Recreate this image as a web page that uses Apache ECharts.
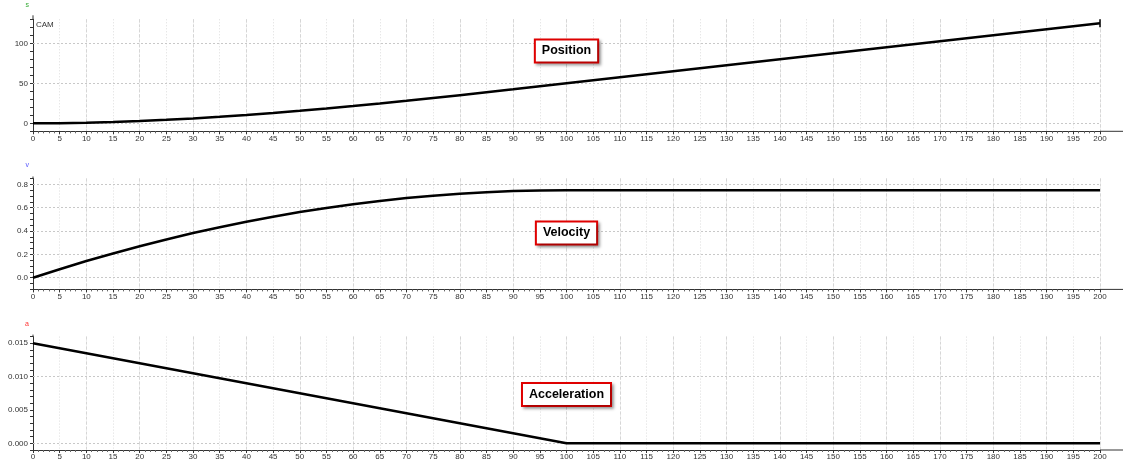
<!DOCTYPE html>
<html>
<head>
<meta charset="utf-8">
<script src="https://cdn.jsdelivr.net/npm/echarts@6/dist/echarts.min.js"></script>
<style>
  html, body { margin: 0; padding: 0; background: #ffffff; }
  #chart { width: 1123px; height: 464px; }
</style>
</head>
<body>
<div id="chart"></div>
<script>
// Cam motion profile sampled every 5 steps
const times = [0, 5, 10, 15, 20, 25, 30, 35, 40, 45, 50, 55, 60, 65, 70, 75, 80, 85, 90, 95,
  100, 105, 110, 115, 120, 125, 130, 135, 140, 145, 150, 155, 160, 165, 170, 175, 180, 185, 190, 195, 200];

const position = [0, 0.18, 0.73, 1.6, 2.8, 4.3, 6.08, 8.12, 10.4, 12.91, 15.63, 18.53, 21.6, 24.82, 28.18,
  31.64, 35.2, 38.83, 42.53, 46.25, 50, 53.75, 57.5, 61.25, 65, 68.75, 72.5, 76.25, 80, 83.75, 87.5,
  91.25, 95, 98.75, 102.5, 106.25, 110, 113.75, 117.5, 121.25, 125];

const velocity = [0, 0.073, 0.143, 0.208, 0.27, 0.328, 0.383, 0.433, 0.48, 0.523, 0.563, 0.598, 0.63,
  0.658, 0.683, 0.703, 0.72, 0.733, 0.743, 0.748, 0.75, 0.75, 0.75, 0.75, 0.75, 0.75, 0.75, 0.75, 0.75,
  0.75, 0.75, 0.75, 0.75, 0.75, 0.75, 0.75, 0.75, 0.75, 0.75, 0.75, 0.75];

const acceleration = [0.015, 0.01425, 0.0135, 0.01275, 0.012, 0.01125, 0.0105, 0.00975, 0.009, 0.00825,
  0.0075, 0.00675, 0.006, 0.00525, 0.0045, 0.00375, 0.003, 0.00225, 0.0015, 0.00075, 0, 0, 0, 0, 0, 0,
  0, 0, 0, 0, 0, 0, 0, 0, 0, 0, 0, 0, 0, 0, 0];

// Labelled ticks on each value axis
const positionTicks = [0, 50, 100];
const velocityTicks = [0, 0.2, 0.4, 0.6, 0.8];
const accelerationTicks = [0, 0.005, 0.010, 0.015];

const FONT = '"Liberation Sans", Arial, sans-serif';
const AXIS_COLOR = '#333333';

const panels = [
  { symbol: 's', symbolColor: '#33aa33', values: position, ticks: positionTicks, digits: 0,
    min: -10, max: 130, step: 10, top: 19.3, height: 112, nameGap: 11,
    title: 'Position', titleAt: [100, 90.4], overhang: 4, endMark: true },
  { symbol: 'v', symbolColor: '#5555ff', values: velocity, ticks: velocityTicks, digits: 1,
    min: -0.1, max: 0.85, step: 0.05, top: 178.5, height: 110.9, nameGap: 10,
    title: 'Velocity', titleAt: [100, 0.383], overhang: 2, endMark: false },
  { symbol: 'a', symbolColor: '#ff3333', values: acceleration, ticks: accelerationTicks, digits: 3,
    min: -0.001, max: 0.016, step: 0.001, top: 336.6, height: 113.4, nameGap: 9,
    title: 'Acceleration', titleAt: [100, 0.00733], overhang: 2, endMark: false }
];

function tickFormatter(ticks, digits) {
  return function (v) {
    for (const t of ticks) {
      if (Math.abs(v - t) < 1e-9) return t.toFixed(digits);
    }
    return '';
  };
}

const grids = [], xAxes = [], yAxes = [], series = [];

panels.forEach(function (p, i) {
  grids.push({ left: 33, right: 23, top: p.top, height: p.height, containLabel: false });

  // labelled x axis with dotted split lines every 5
  xAxes.push({
    gridIndex: i, type: 'value', min: 0, max: 200, interval: 5, position: 'bottom',
    axisLine: { show: true, onZero: false, lineStyle: { color: AXIS_COLOR, width: 1 } },
    axisTick: { show: true, length: 3, lineStyle: { color: AXIS_COLOR } },
    minorTick: { show: true, splitNumber: 5, length: 2, lineStyle: { color: '#666666' } },
    axisLabel: { fontSize: 8, color: AXIS_COLOR, margin: 3, fontFamily: FONT },
    splitLine: { show: true, lineStyle: { color: '#dddddd', width: 1, type: [1, 2] } }
  });
  // dashed split lines every 10
  xAxes.push({
    gridIndex: i, type: 'value', min: 0, max: 200, interval: 10, position: 'bottom',
    axisLine: { show: false, onZero: false }, axisTick: { show: false }, axisLabel: { show: false },
    splitLine: { show: true, lineStyle: { color: '#d6d6d6', width: 1, type: [3, 2] } }
  });

  yAxes.push({
    gridIndex: i, type: 'value', min: p.min, max: p.max, interval: p.step,
    name: p.symbol, nameLocation: 'end', nameGap: p.nameGap,
    nameTextStyle: { color: p.symbolColor, fontSize: 7, fontFamily: FONT, align: 'right', padding: [0, 4, 0, 0] },
    axisLine: { show: true, onZero: false, lineStyle: { color: AXIS_COLOR, width: 1 } },
    axisTick: { show: true, length: 3, lineStyle: { color: AXIS_COLOR } },
    axisLabel: { fontSize: 8, color: AXIS_COLOR, margin: 5, fontFamily: FONT, formatter: tickFormatter(p.ticks, p.digits) },
    splitLine: { show: false }
  });

  const markData = [{
    name: p.title, coord: p.titleAt, symbol: 'rect', symbolSize: 0,
    itemStyle: { color: 'rgba(0,0,0,0)', borderWidth: 0 },
    label: {
      show: true, position: 'inside', formatter: p.title, color: '#000000',
      fontWeight: 'bold', fontSize: 12.5, fontFamily: FONT, lineHeight: 14,
      backgroundColor: '#ffffff', borderColor: '#e00000', borderWidth: 2,
      padding: [4, 6, 3, 6],
      shadowBlur: 3, shadowOffsetX: 2, shadowOffsetY: 2, shadowColor: 'rgba(0,0,0,0.35)'
    }
  }];
  if (p.endMark) {
    markData.push({
      type: 'max', symbol: 'rect', symbolSize: [1.5, 8],
      itemStyle: { color: '#000000', borderWidth: 0, shadowBlur: 0 },
      label: { show: false }
    });
  }

  series.push({
    type: 'line', xAxisIndex: i * 2, yAxisIndex: i, z: 2,
    data: times.map(function (t, k) { return [t, p.values[k]]; }),
    showSymbol: false, symbol: 'none', smooth: false,
    lineStyle: { color: '#000000', width: 2.5 },
    emphasis: { disabled: true },
    markLine: {
      silent: true, symbol: 'none', z: 1, animation: false,
      label: { show: false },
      lineStyle: { color: '#c8c8c8', width: 1, type: [2, 2] },
      data: p.ticks.map(function (v) { return { yAxis: v }; })
    },
    markPoint: { silent: true, animation: false, data: markData }
  });
});

const chart = echarts.init(document.getElementById('chart'), null, { renderer: 'canvas' });
chart.setOption({
  animation: false,
  backgroundColor: '#ffffff',
  grid: grids, xAxis: xAxes, yAxis: yAxes, series: series
});

// Axis line extensions past the plot area, plus the CAM caption
const extras = [{
  type: 'text', left: 36, top: 21, silent: true,
  style: { text: 'CAM', fill: AXIS_COLOR, font: '8px ' + FONT }
}];
panels.forEach(function (p, i) {
  const origin = chart.convertToPixel({ gridIndex: i }, [200, p.min]);
  const top = chart.convertToPixel({ gridIndex: i }, [0, p.max]);
  extras.push({
    type: 'line', silent: true,
    shape: { x1: origin[0], y1: origin[1], x2: 1123, y2: origin[1] },
    style: { stroke: AXIS_COLOR, lineWidth: 1 }
  });
  extras.push({
    type: 'line', silent: true,
    shape: { x1: top[0], y1: top[1], x2: top[0], y2: top[1] - p.overhang },
    style: { stroke: AXIS_COLOR, lineWidth: 1 }
  });
});
chart.setOption({ graphic: extras });
</script>
</body>
</html>
